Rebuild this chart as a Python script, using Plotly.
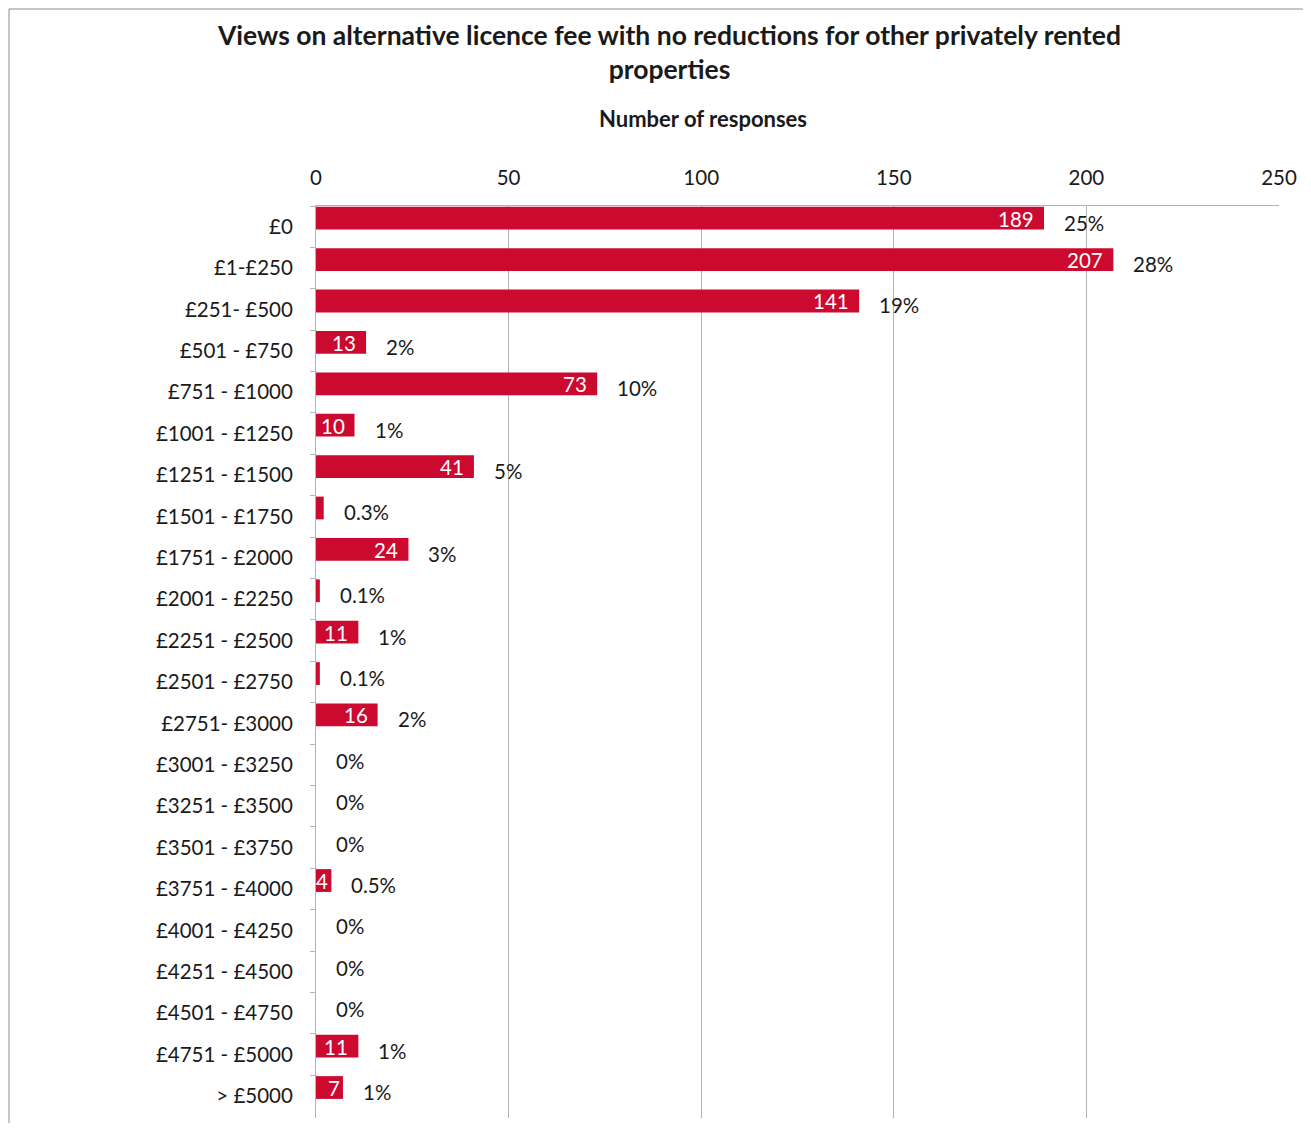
import plotly.graph_objects as go

categories = ['£0', '£1-£250', '£251- £500', '£501 - £750', '£751 - £1000',
              '£1001 - £1250', '£1251 - £1500', '£1501 - £1750', '£1751 - £2000',
              '£2001 - £2250', '£2251 - £2500', '£2501 - £2750', '£2751- £3000',
              '£3001 - £3250', '£3251 - £3500', '£3501 - £3750', '£3751 - £4000',
              '£4001 - £4250', '£4251 - £4500', '£4501 - £4750', '£4751 - £5000',
              '> £5000']
counts = [189, 207, 141, 13, 73, 10, 41, 2, 24, 1, 11, 1, 16, 0, 0, 0, 4, 0, 0, 0, 11, 7]
percents = ['25%', '28%', '19%', '2%', '10%', '1%', '5%', '0.3%', '3%', '0.1%', '1%',
            '0.1%', '2%', '0%', '0%', '0%', '0.5%', '0%', '0%', '0%', '1%', '1%']
x_ticks = [0, 50, 100, 150, 200, 250]

# page has an 8px body margin, so the figure is a little smaller than the window
PAD = 8
W, H = 1311 - 2 * PAD, 1131 - 2 * PAD
L, T = 316 - PAD, 206 - PAD
pw, ph = 963, 912
R, B = W - L - pw, H - T - ph
FONT = 'Lato'
RED = '#CC0A30'
GREY = '#B3B3B3'
INK = '#1a1a1a'
FRAME = '#8C8C8C'


def px_x(p):
    return (p - PAD - L) / pw


def px_y(p):
    return (T + ph - (p - PAD)) / ph


fig = go.Figure(go.Bar(
    x=counts, y=categories, orientation='h',
    marker_color=RED, marker_line_width=0,
    offset=-0.48, width=0.55,
    hoverinfo='x+y'
))

annotations = []
for cat, v, p in zip(categories, counts, percents):
    bar_px = v * pw / 250
    if v >= 4:
        # value inside the bar end, white
        shift = -8 if bar_px > 30 else -1
        annotations.append(dict(x=v, y=cat, xref='x', yref='y', text=str(v),
                                showarrow=False, xanchor='right', xshift=shift,
                                yshift=8, font=dict(family=FONT, size=20.5, color='white')))
    annotations.append(dict(x=v, y=cat, xref='x', yref='y', text=p,
                            showarrow=False, xanchor='left', xshift=18, yshift=4,
                            font=dict(family=FONT, size=20.5, color=INK)))

annotations.append(dict(text='<b>Number of responses</b>', xref='paper', yref='paper',
                        x=px_x(703), y=px_y(119), showarrow=False,
                        xanchor='center', yanchor='middle',
                        font=dict(family=FONT, size=22, color=INK)))

fig.update_layout(
    width=W, height=H,
    margin=dict(l=L, r=R, t=T, b=B),
    paper_bgcolor='white', plot_bgcolor='white',
    showlegend=False,
    title=dict(text='<b>Views on alternative licence fee with no reductions for other privately rented<br>properties</b>',
               xref='container', yref='container', x=(669.5 - PAD) / W, y=1 - 37 / H,
               xanchor='center', yanchor='top',
               font=dict(family=FONT, size=26.5, color=INK)),
    annotations=annotations,
    # chart frame: only the left and top edges are visible
    shapes=[
        dict(type='line', xref='paper', yref='paper',
             x0=px_x(PAD + 1), x1=px_x(PAD + 1), y0=px_y(1131), y1=px_y(PAD + 1),
             line=dict(color=FRAME, width=1)),
        dict(type='line', xref='paper', yref='paper',
             x0=px_x(PAD + 1), x1=px_x(1311), y0=px_y(PAD + 1), y1=px_y(PAD + 1),
             line=dict(color=FRAME, width=1)),
    ],
)

fig.update_xaxes(
    side='top', range=[0, 250], tickvals=x_ticks,
    showgrid=True, gridcolor=GREY, gridwidth=1,
    showline=True, linecolor=GREY, zeroline=False,
    ticks='', ticklabelstandoff=12,
    tickfont=dict(family=FONT, size=20.5, color=INK)
)
fig.update_yaxes(
    autorange='reversed', type='category',
    showgrid=False, showline=True, linecolor=GREY,
    ticks='outside', ticklen=5, tickcolor=GREY, tickson='boundaries',
    ticklabelstandoff=18,
    tickfont=dict(family=FONT, size=20.5, color=INK)
)

fig.write_html('out.html')
